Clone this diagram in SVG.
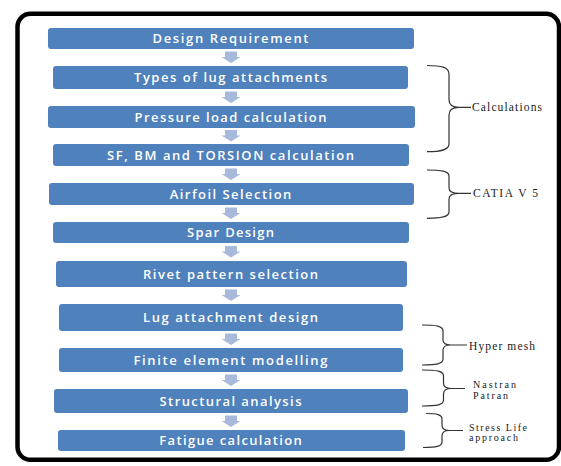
<svg xmlns="http://www.w3.org/2000/svg" width="561" height="466" viewBox="0 0 561 466">
<style>
.box{fill:#4F81BD;}
.bt{font-family:"Open Sans","Liberation Sans",sans-serif;font-size:13px;font-weight:600;fill:#ffffff;text-anchor:middle;}
.arr{fill:#A7BADB;}
.br{fill:none;stroke:#333333;stroke-width:1.2;}
.lb{font-family:"Liberation Serif","Times New Roman",serif;font-size:11.5px;fill:#1a1a1a;}
.ls{font-family:"Liberation Serif","Times New Roman",serif;font-size:10px;fill:#1a1a1a;}
</style>
<rect x="0" y="0" width="561" height="466" fill="#ffffff"/>
<rect x="17.5" y="13.8" width="541.5" height="446" rx="13" fill="none" stroke="#000000" stroke-width="4.5"/>
<g id="connectors">
<path class="arr" d="M225,51.5 H237 V57 H240.5 L231,63 L221.5,57 H225 Z"/>
<path class="arr" d="M225,91.5 H237 V97 H240.5 L231,103 L221.5,97 H225 Z"/>
<path class="arr" d="M225,130 H237 V135.5 H240.5 L231,141.5 L221.5,135.5 H225 Z"/>
<path class="arr" d="M225,168.5 H237 V174 H240.5 L231,180 L221.5,174 H225 Z"/>
<path class="arr" d="M225,207.5 H237 V213 H240.5 L231,219 L221.5,213 H225 Z"/>
<path class="arr" d="M225,246 H237 V251.5 H240.5 L231,257.5 L221.5,251.5 H225 Z"/>
<path class="arr" d="M225,289.5 H237 V295 H240.5 L231,301 L221.5,295 H225 Z"/>
<path class="arr" d="M225,333.5 H237 V339 H240.5 L231,345 L221.5,339 H225 Z"/>
<path class="arr" d="M225,374.5 H237 V380 H240.5 L231,386 L221.5,380 H225 Z"/>
<path class="arr" d="M225,415.5 H237 V421 H240.5 L231,427 L221.5,421 H225 Z"/>
</g>
<g id="n1"><rect class="box" x="48" y="28" width="366" height="21" rx="3"/><text class="bt" x="230.5" y="42.5" textLength="156" lengthAdjust="spacing">Design Requirement</text></g>
<g id="n2"><rect class="box" x="53" y="66" width="355" height="23" rx="3"/><text class="bt" x="230.5" y="82" textLength="193" lengthAdjust="spacing">Types of lug attachments</text></g>
<g id="n3"><rect class="box" x="48" y="106" width="367" height="22" rx="3"/><text class="bt" x="230.5" y="121.5" textLength="192" lengthAdjust="spacing">Pressure load calculation</text></g>
<g id="n4"><rect class="box" x="53" y="144" width="356" height="22" rx="3"/><text class="bt" x="230.5" y="159.5" textLength="247" lengthAdjust="spacing">SF, BM and TORSION calculation</text></g>
<g id="n5"><rect class="box" x="49" y="183" width="365" height="22" rx="3"/><text class="bt" x="230.5" y="198.5" textLength="121.6" lengthAdjust="spacing">Airfoil Selection</text></g>
<g id="n6"><rect class="box" x="53" y="222" width="356" height="21" rx="3"/><text class="bt" x="230.5" y="237" textLength="87" lengthAdjust="spacing">Spar Design</text></g>
<g id="n7"><rect class="box" x="56" y="261" width="351" height="26" rx="3"/><text class="bt" x="230.5" y="278.5" textLength="175" lengthAdjust="spacing">Rivet pattern selection</text></g>
<g id="n8"><rect class="box" x="59" y="304" width="344" height="27" rx="3"/><text class="bt" x="230.5" y="322" textLength="175" lengthAdjust="spacing">Lug attachment design</text></g>
<g id="n9"><rect class="box" x="59" y="348" width="344" height="24" rx="3"/><text class="bt" x="230.5" y="364.5" textLength="194" lengthAdjust="spacing">Finite element modelling</text></g>
<g id="n10"><rect class="box" x="54" y="389" width="354" height="24" rx="3"/><text class="bt" x="230.5" y="405.5" textLength="142" lengthAdjust="spacing">Structural analysis</text></g>
<g id="n11"><rect class="box" x="58" y="430" width="347" height="21" rx="3"/><text class="bt" x="230.5" y="445" textLength="142.5" lengthAdjust="spacing">Fatigue calculation</text></g>
<g id="brace-calculations">
<path class="br" d="M427,65.5 C441,65.5 449,67 449,74 V100 C449,105 452,107.3 459,107.3 C452,107.3 449,110 449,115 V144 C449,150 441,151.7 427,151.7 M459,107.3 H471"/>
<text class="lb" x="472" y="111" textLength="70" lengthAdjust="spacing">Calculations</text>
</g>
<g id="brace-catia">
<path class="br" d="M427,170 C441,170 449,171 449,176 V188 C449,191.5 452,193.3 459,193.3 C452,193.3 449,195 449,199 V212 C449,217 441,218.3 427,218.3 M459,193.3 H471"/>
<text class="lb" x="473" y="197.3" textLength="65" lengthAdjust="spacing">CATIA V 5</text>
</g>
<g id="brace-hypermesh">
<path class="br" d="M422,325 C436,325 443,326 443,331 V340 C443,343 446,345 451,345 C446,345 443,347 443,350 V359 C443,364 436,365 422,365 M451,345 H467"/>
<text class="lb" x="469" y="349.5" textLength="66" lengthAdjust="spacing">Hyper mesh</text>
</g>
<g id="brace-nastran">
<path class="br" d="M422,370 C437,370 443.5,371 443.5,376 V383 C443.5,386.5 446,388.5 451,388.5 C446,388.5 443.5,390.5 443.5,394 V400 C443.5,405 437,406 422,406 M451,388.5 H465"/>
<text class="ls" x="473" y="387.5" textLength="43" lengthAdjust="spacing">Nastran</text>
<text class="ls" x="473" y="398.5" textLength="35" lengthAdjust="spacing">Patran</text>
</g>
<g id="brace-stress">
<path class="br" d="M426,413.5 C437,413.5 442,414.5 442,419 V425 C442,428.5 444.5,430.5 449,430.5 C444.5,430.5 442,432.5 442,436 V442 C442,446.5 436,447.5 423,447.5 M449,430.5 H463"/>
<text class="ls" x="469" y="430.5" textLength="58" lengthAdjust="spacing">Stress Life</text>
<text class="ls" x="469" y="441" textLength="49" lengthAdjust="spacing">approach</text>
</g>
</svg>
